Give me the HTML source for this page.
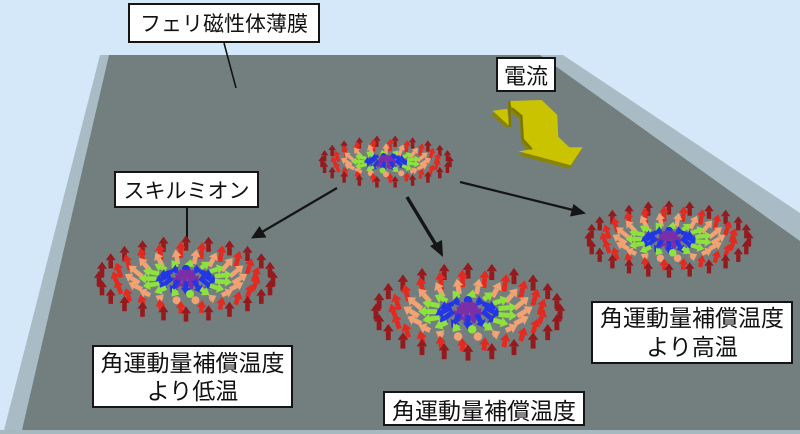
<!DOCTYPE html>
<html>
<head>
<meta charset="utf-8">
<style>
html,body{margin:0;padding:0;}
body{width:800px;height:434px;overflow:hidden;background:#d5e8fa;position:relative;font-family:"Liberation Sans","Noto Sans CJK JP",sans-serif;}
svg{position:absolute;left:0;top:0;}
.box{position:absolute;box-sizing:border-box;border:2px solid #151515;background:#fff;color:#111;display:flex;flex-direction:column;align-items:center;justify-content:center;text-align:center;white-space:nowrap;font-family:"Liberation Sans","Noto Sans CJK JP",sans-serif;}
</style>
</head>
<body>
<svg width="800" height="434" viewBox="0 0 800 434">
  <!-- slab edges -->
  <polygon points="100,55 563,55 800,213 800,434 3,434" fill="#a9bcc5"/>
  <polygon points="0,430 800,430 800,434 0,434" fill="#a6b8c0"/>
  <!-- top face -->
  <polygon points="109,55 540,55 800,241 800,430 22,430" fill="#737f7e"/>

  <!-- yellow current arrow -->
  <g transform="translate(-1.5,3.5)" fill="#8a8500">
    <polygon points="492.7,110.7 507.3,108.7 509.3,126"/>
    <polygon points="509.3,101 541.7,100 557.3,115 558.3,136.7 569.3,147.3 582.7,147.3 570.7,165.3 518.7,151.3 531.7,149.3 522.7,139.3 521.3,116 512,108.3"/>
  </g>
  <polygon points="492.7,110.7 507.3,108.7 509.3,126" fill="#c9c300"/>
  <polygon points="509.3,101 541.7,100 557.3,115 558.3,136.7 569.3,147.3 582.7,147.3 570.7,165.3 518.7,151.3 531.7,149.3 522.7,139.3 521.3,116 512,108.3" fill="#c9c300"/>
  <polyline points="509.3,101 510,127" fill="none" stroke="#7d7900" stroke-width="2.5"/>
  <polyline points="512,108.3 521.3,116 522.7,139.3 531.7,149.3" fill="none" stroke="#7d7900" stroke-width="2.5"/>

  <!-- leader lines -->
  <line x1="224" y1="43" x2="236" y2="88" stroke="#151515" stroke-width="1.6"/>
  <line x1="187" y1="207" x2="187" y2="246" stroke="#151515" stroke-width="2"/>

  <!-- skyrmions -->
  <g id="sk"></g>

  <!-- movement arrows -->
  <g fill="#151515" stroke="#151515">
    <line x1="337" y1="188" x2="262" y2="232" stroke-width="2.2"/>
    <polygon points="251,238.5 259.5,226 266.5,237.5" stroke="none"/>
    <line x1="407" y1="197" x2="436" y2="245" stroke-width="3.4"/>
    <polygon points="443,257 430,246 442,240" stroke="none"/>
    <line x1="460" y1="182" x2="573" y2="210" stroke-width="2.2"/>
    <polygon points="586,213.5 570,216.5 573.5,204" stroke="none"/>
  </g>
</svg>

<div class="box" style="left:128px;top:3px;width:192px;height:40px;font-size:21px;">フェリ磁性体薄膜</div>
<div class="box" style="left:114px;top:171px;width:145px;height:37px;font-size:21px;">スキルミオン</div>
<div class="box" style="left:496px;top:57px;width:60px;height:35px;font-size:22px;">電流</div>
<div class="box" style="left:92px;top:345px;width:201px;height:63px;font-size:23px;line-height:28px;"><div>角運動量補償温度</div><div>より低温</div></div>
<div class="box" style="left:383px;top:391px;width:202px;height:35px;font-size:23px;">角運動量補償温度</div>
<div class="box" style="left:591px;top:301px;width:202px;height:63px;font-size:23px;line-height:29px;"><div>角運動量補償温度</div><div>より高温</div></div>

<script>
(function(){
  var rings=[[1,0,'#941a1e'],[0.81,0.3,'#e42a20'],[0.62,0.95,'#f2a273'],[0.44,1.55,'#8fe23e'],[0.27,2.1,'#2236e6'],[0.1,2.7,'#7a2fa8']];
  var sks=[[186,278.5,87,35.5,16,24],[468,311.5,92,41,17,24],[669,239,80,31.5,15,24],[386,161.5,64,20.5,12,22]];
  var items=[];
  sks.forEach(function(S){
    var cx=S[0],cy=S[1],Rx=S[2],Ry=S[3],L=S[4],n=S[5];
    var w=L/16;
    rings.forEach(function(R,ri){
      var r=R[0],th=R[1],col=R[2];
      var m=Math.max(6,Math.round(n*(0.3+0.7*r)));
      for(var k=0;k<m;k++){
        var ph=2*Math.PI*(k+(ri%2)*0.5)/m;
        var x=cx+r*Rx*Math.cos(ph), y=cy+r*Ry*Math.sin(ph);
        var mx=Math.sin(th)*Math.cos(ph), my=Math.sin(th)*Math.sin(ph), mz=Math.cos(th);
        var dx=L*1.1*mx, dy=L*(-mz*0.95+my*0.45);
        items.push({x:x,y:y,dx:dx,dy:dy,col:col,w:w,L:L});
      }
    });
  });
  items.sort(function(a,b){return a.y-b.y;});
  var s='';
  items.forEach(function(it){
    var len=Math.sqrt(it.dx*it.dx+it.dy*it.dy);
    if(len<0.45*it.L){
      s+='<circle cx="'+it.x.toFixed(1)+'" cy="'+it.y.toFixed(1)+'" r="'+(4*it.w).toFixed(2)+'" fill="'+it.col+'"/>';
      return;
    }
    var ux=it.dx/len, uy=it.dy/len;
    var x0=it.x-it.dx/2, y0=it.y-it.dy/2, x1=it.x+it.dx/2, y1=it.y+it.dy/2;
    var hl=7*it.w, hw=5*it.w;
    var bx=x1-ux*hl, by=y1-uy*hl;
    s+='<line x1="'+x0.toFixed(1)+'" y1="'+y0.toFixed(1)+'" x2="'+bx.toFixed(1)+'" y2="'+by.toFixed(1)+'" stroke="'+it.col+'" stroke-width="'+(4.6*it.w).toFixed(2)+'"/>';
    s+='<polygon points="'+x1.toFixed(1)+','+y1.toFixed(1)+' '+(bx-uy*hw).toFixed(1)+','+(by+ux*hw).toFixed(1)+' '+(bx+uy*hw).toFixed(1)+','+(by-ux*hw).toFixed(1)+'" fill="'+it.col+'"/>';
  });
  document.getElementById('sk').innerHTML=s;
})();
</script>
</body>
</html>
